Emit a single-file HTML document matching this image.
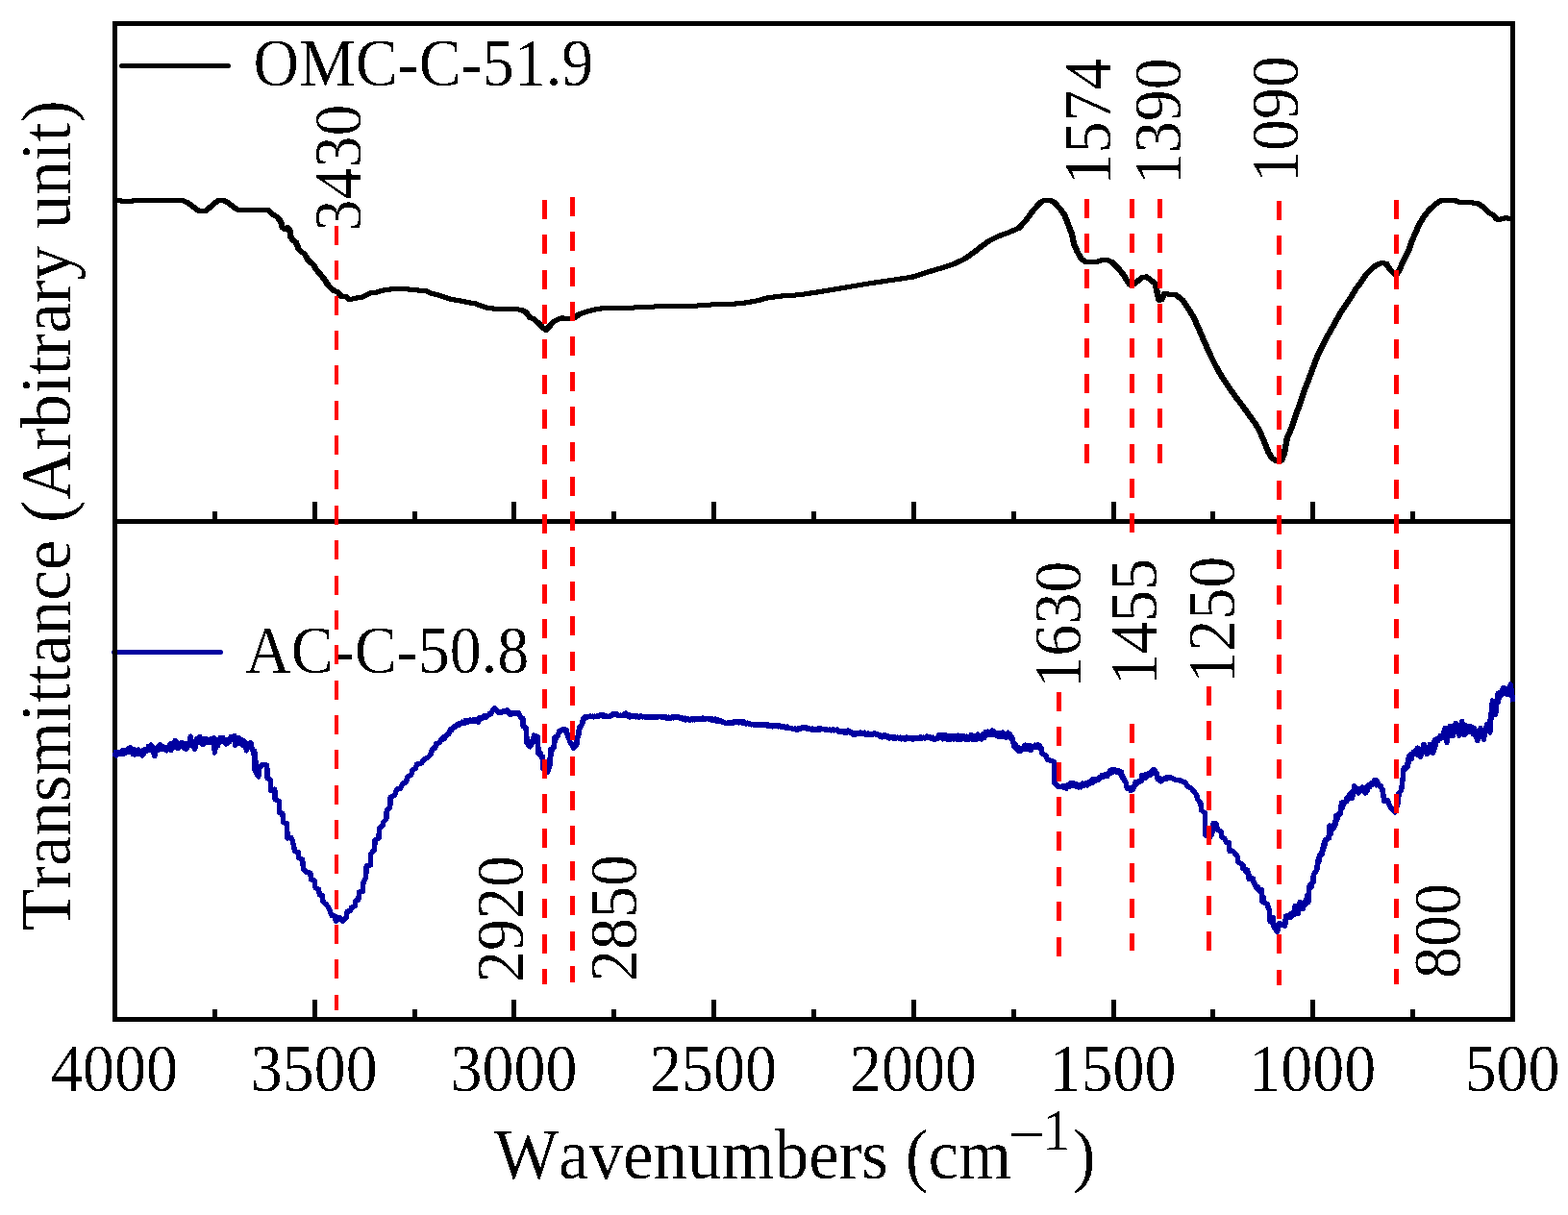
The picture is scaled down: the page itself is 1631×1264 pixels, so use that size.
<!DOCTYPE html>
<html lang="en"><head><meta charset="utf-8"><title>FTIR spectra</title>
<style>
html,body{margin:0;padding:0;background:#fff;}
body{width:1631px;height:1264px;overflow:hidden;}
svg{display:block;}
text{font-family:"Liberation Serif",serif;fill:#000;font-kerning:none;}
.t{font-size:66px;}
.a{font-size:73px;}
</style></head><body>
<svg width="1631" height="1264" viewBox="0 0 1631 1264" shape-rendering="crispEdges">
<defs><filter id="bin" x="0" y="0" width="100%" height="100%" filterUnits="userSpaceOnUse" primitiveUnits="userSpaceOnUse" color-interpolation-filters="sRGB"><feComponentTransfer><feFuncA type="discrete" tableValues="0 0 0 0 0 1 1 1"/></feComponentTransfer></filter></defs>
<rect width="1631" height="1264" fill="#fff"/>
<line x1="126.5" y1="68.5" x2="237.5" y2="68.5" stroke="#000" stroke-width="5" stroke-linecap="round" shape-rendering="auto"/>
<line x1="118.5" y1="678.5" x2="229.5" y2="678.5" stroke="#00009f" stroke-width="5" stroke-linecap="round" shape-rendering="auto"/>
<g stroke="#000" stroke-width="5" fill="none">
<rect x="119.5" y="24.5" width="1454.0" height="1036.0"/>
<line x1="119.5" y1="542.5" x2="1573.5" y2="542.5"/>
<line x1="223.5" y1="542.5" x2="223.5" y2="532.0"/>
<line x1="327.5" y1="542.5" x2="327.5" y2="522.0"/>
<line x1="431.5" y1="542.5" x2="431.5" y2="532.0"/>
<line x1="534.5" y1="542.5" x2="534.5" y2="522.0"/>
<line x1="638.5" y1="542.5" x2="638.5" y2="532.0"/>
<line x1="742.5" y1="542.5" x2="742.5" y2="522.0"/>
<line x1="846.5" y1="542.5" x2="846.5" y2="532.0"/>
<line x1="950.5" y1="542.5" x2="950.5" y2="522.0"/>
<line x1="1054.5" y1="542.5" x2="1054.5" y2="532.0"/>
<line x1="1158.5" y1="542.5" x2="1158.5" y2="522.0"/>
<line x1="1261.5" y1="542.5" x2="1261.5" y2="532.0"/>
<line x1="1365.5" y1="542.5" x2="1365.5" y2="522.0"/>
<line x1="1469.5" y1="542.5" x2="1469.5" y2="532.0"/>
<line x1="223.5" y1="1060.5" x2="223.5" y2="1050.0"/>
<line x1="327.5" y1="1060.5" x2="327.5" y2="1040.0"/>
<line x1="431.5" y1="1060.5" x2="431.5" y2="1050.0"/>
<line x1="534.5" y1="1060.5" x2="534.5" y2="1040.0"/>
<line x1="638.5" y1="1060.5" x2="638.5" y2="1050.0"/>
<line x1="742.5" y1="1060.5" x2="742.5" y2="1040.0"/>
<line x1="846.5" y1="1060.5" x2="846.5" y2="1050.0"/>
<line x1="950.5" y1="1060.5" x2="950.5" y2="1040.0"/>
<line x1="1054.5" y1="1060.5" x2="1054.5" y2="1050.0"/>
<line x1="1158.5" y1="1060.5" x2="1158.5" y2="1040.0"/>
<line x1="1261.5" y1="1060.5" x2="1261.5" y2="1050.0"/>
<line x1="1365.5" y1="1060.5" x2="1365.5" y2="1040.0"/>
<line x1="1469.5" y1="1060.5" x2="1469.5" y2="1050.0"/>
</g>
<g fill="none" stroke="#000" stroke-width="5" stroke-linejoin="round" stroke-linecap="butt"><path transform="translate(-0.7,0)" d="M119.3,208.7 L121.8,208.7 L127.7,209.1 L138,209.1 L140.2,208.4 L176.2,208.4 L179.2,209 L185,208.3 L190.2,208.8 L194.6,210.5 L201.2,215.3 L207.1,219.7 L213,220 L218.9,215.3 L224.8,210.2 L227.7,208.5 L232.1,208.4 L236.5,210.6 L242.4,215 L246.8,218 L260.1,218.8 L279.2,218.6 L283.6,223 L288.1,225.6 L291.7,230 L293.9,236.7 L296.6,238.9 L299.1,236.7 L301.3,238.9 L302.5,247 L305,250.3 L307.9,252.1 L310.9,259.5 L313.8,262.4 L316.7,263.9 L319.7,269.8 L322.6,272.7 L325.6,274.9 L329.3,280.8 L333.7,285.9 L337.3,290.4 L340.3,295.5 L345.4,300.7 L347.7,302.7 L351.3,303.9 L355,308.3 L359.4,308.3 L363.1,311.2 L368.3,310.9 L372.7,309.5 L377.1,309 L381.5,306.8 L385.9,304.6 L391.8,304.2 L396.2,302.4 L403.6,301.4 L410.9,300.3 L421.2,300.3 L425.6,301.2 L433,301.7 L438.9,302.7 L443.3,302.7 L447.7,304.9 L455.1,306.8 L462.4,309 L469.8,311.5 L477.1,312.7 L484.5,314.2 L494.8,315.9 L499.2,317.9 L506.6,320.1 L513.9,321.2 L533.1,321.2 L541.9,322.3 L547,324.8 L551.5,330.4 L555.1,331.8 L561,337 L564.4,340.7 L568.1,343.3 L571.8,339.2 L575.5,334.8 L580.6,332.1 L585,330.7 L588,331.5 L595.3,331.8 L599,329.6 L602.7,326.7 L610,324.2 L618.9,322 L627.7,320.5 L655.6,320.5 L663,319.6 L680.7,319 L721.9,318.3 L730.7,317.6 L742.5,316.8 L763.1,316.2 L776.3,314.9 L788.1,312.7 L798.4,309.8 L798.8,309.8 L816.5,307.6 L831.2,306.8 L848.9,304.2 L866.5,301.3 L885.6,298 L907.7,294.3 L929.8,291.1 L948.9,288.2 L966.6,282.6 L981.3,278.2 L993.1,274.2 L1003.4,269.3 L1013.7,262 L1022.5,255.1 L1028.8,250.6 L1039.1,245.5 L1049.4,241.8 L1059.7,237.4 L1067.1,229.3 L1074.4,219.4 L1081.8,210.9 L1086.2,208.4 L1092.1,208.4 L1096.5,210.6 L1102.4,216.8 L1107.6,224.1 L1111.2,233.7 L1114.9,243.3 L1117.1,253.6 L1120.1,260.9 L1124.5,269 L1128.9,272.3 L1140.7,272.3 L1146.5,270.5 L1152.4,270.8 L1156.8,272.7 L1162.7,278.6 L1168.6,285.9 L1173,293.3 L1175.2,296.2 L1179.7,295.5 L1183.3,292.6 L1187.7,288.9 L1192.2,287.9 L1196.6,291.1 L1201.7,295.2 L1203.9,305.1 L1205.7,312.4 L1208.4,311.7 L1211.3,305.5 L1217.2,306.3 L1223.1,306.8 L1230.4,312.4 L1236.3,321.3 L1241.8,330.6 L1247.7,343.8 L1253.5,357.1 L1259.4,370.3 L1265.3,382.1 L1271.2,392.4 L1278.6,403.4 L1285.9,413.7 L1293.3,423.3 L1300.6,433.6 L1306.5,441.7 L1310.9,449.8 L1315.3,460.1 L1319,469.7 L1322.7,476.3 L1327.1,479.2 L1333,479.2 L1335.9,471.9 L1338.9,455.7 L1343.3,445.4 L1347.7,432.1 L1352.1,420.4 L1356.5,407.1 L1361,395.3 L1365.4,383.6 L1369.8,371.8 L1375.7,360 L1381.6,348.3 L1387.4,338 L1390,333.3 L1395.9,323 L1401.8,314.2 L1406.2,307.6 L1410.6,300.2 L1415.8,293.6 L1420.9,285.5 L1426.1,280.4 L1431.2,275.9 L1437.1,273.7 L1442.2,274.2 L1445.2,279.6 L1448.9,283.3 L1452.5,286.2 L1455.5,281.1 L1458.4,274.5 L1462.1,267.1 L1465,261.2 L1468,252.4 L1472.4,242.1 L1476.8,232.5 L1481.2,225.2 L1487.1,217.8 L1493,212.7 L1498.9,208.6 L1507.7,208.6 L1513.6,208.6 L1519.5,210.9 L1526.8,210.5 L1537.1,211.5 L1543,215.6 L1548.9,221.5 L1553.3,223.7 L1557,228.1 L1560.7,228.1 L1566.6,226.7 L1571.7,227.7"/><path transform="translate(0.7,0)" d="M119.3,208.7 L121.8,208.7 L127.7,209.1 L138,209.1 L140.2,208.4 L176.2,208.4 L179.2,209 L185,208.3 L190.2,208.8 L194.6,210.5 L201.2,215.3 L207.1,219.7 L213,220 L218.9,215.3 L224.8,210.2 L227.7,208.5 L232.1,208.4 L236.5,210.6 L242.4,215 L246.8,218 L260.1,218.8 L279.2,218.6 L283.6,223 L288.1,225.6 L291.7,230 L293.9,236.7 L296.6,238.9 L299.1,236.7 L301.3,238.9 L302.5,247 L305,250.3 L307.9,252.1 L310.9,259.5 L313.8,262.4 L316.7,263.9 L319.7,269.8 L322.6,272.7 L325.6,274.9 L329.3,280.8 L333.7,285.9 L337.3,290.4 L340.3,295.5 L345.4,300.7 L347.7,302.7 L351.3,303.9 L355,308.3 L359.4,308.3 L363.1,311.2 L368.3,310.9 L372.7,309.5 L377.1,309 L381.5,306.8 L385.9,304.6 L391.8,304.2 L396.2,302.4 L403.6,301.4 L410.9,300.3 L421.2,300.3 L425.6,301.2 L433,301.7 L438.9,302.7 L443.3,302.7 L447.7,304.9 L455.1,306.8 L462.4,309 L469.8,311.5 L477.1,312.7 L484.5,314.2 L494.8,315.9 L499.2,317.9 L506.6,320.1 L513.9,321.2 L533.1,321.2 L541.9,322.3 L547,324.8 L551.5,330.4 L555.1,331.8 L561,337 L564.4,340.7 L568.1,343.3 L571.8,339.2 L575.5,334.8 L580.6,332.1 L585,330.7 L588,331.5 L595.3,331.8 L599,329.6 L602.7,326.7 L610,324.2 L618.9,322 L627.7,320.5 L655.6,320.5 L663,319.6 L680.7,319 L721.9,318.3 L730.7,317.6 L742.5,316.8 L763.1,316.2 L776.3,314.9 L788.1,312.7 L798.4,309.8 L798.8,309.8 L816.5,307.6 L831.2,306.8 L848.9,304.2 L866.5,301.3 L885.6,298 L907.7,294.3 L929.8,291.1 L948.9,288.2 L966.6,282.6 L981.3,278.2 L993.1,274.2 L1003.4,269.3 L1013.7,262 L1022.5,255.1 L1028.8,250.6 L1039.1,245.5 L1049.4,241.8 L1059.7,237.4 L1067.1,229.3 L1074.4,219.4 L1081.8,210.9 L1086.2,208.4 L1092.1,208.4 L1096.5,210.6 L1102.4,216.8 L1107.6,224.1 L1111.2,233.7 L1114.9,243.3 L1117.1,253.6 L1120.1,260.9 L1124.5,269 L1128.9,272.3 L1140.7,272.3 L1146.5,270.5 L1152.4,270.8 L1156.8,272.7 L1162.7,278.6 L1168.6,285.9 L1173,293.3 L1175.2,296.2 L1179.7,295.5 L1183.3,292.6 L1187.7,288.9 L1192.2,287.9 L1196.6,291.1 L1201.7,295.2 L1203.9,305.1 L1205.7,312.4 L1208.4,311.7 L1211.3,305.5 L1217.2,306.3 L1223.1,306.8 L1230.4,312.4 L1236.3,321.3 L1241.8,330.6 L1247.7,343.8 L1253.5,357.1 L1259.4,370.3 L1265.3,382.1 L1271.2,392.4 L1278.6,403.4 L1285.9,413.7 L1293.3,423.3 L1300.6,433.6 L1306.5,441.7 L1310.9,449.8 L1315.3,460.1 L1319,469.7 L1322.7,476.3 L1327.1,479.2 L1333,479.2 L1335.9,471.9 L1338.9,455.7 L1343.3,445.4 L1347.7,432.1 L1352.1,420.4 L1356.5,407.1 L1361,395.3 L1365.4,383.6 L1369.8,371.8 L1375.7,360 L1381.6,348.3 L1387.4,338 L1390,333.3 L1395.9,323 L1401.8,314.2 L1406.2,307.6 L1410.6,300.2 L1415.8,293.6 L1420.9,285.5 L1426.1,280.4 L1431.2,275.9 L1437.1,273.7 L1442.2,274.2 L1445.2,279.6 L1448.9,283.3 L1452.5,286.2 L1455.5,281.1 L1458.4,274.5 L1462.1,267.1 L1465,261.2 L1468,252.4 L1472.4,242.1 L1476.8,232.5 L1481.2,225.2 L1487.1,217.8 L1493,212.7 L1498.9,208.6 L1507.7,208.6 L1513.6,208.6 L1519.5,210.9 L1526.8,210.5 L1537.1,211.5 L1543,215.6 L1548.9,221.5 L1553.3,223.7 L1557,228.1 L1560.7,228.1 L1566.6,226.7 L1571.7,227.7"/></g>
<g fill="none" stroke="#0000a0" stroke-linejoin="round" stroke-linecap="butt">
<path d="M118.8,785.6 L123.2,783.7 L129.1,782.2 L132.1,780.8 L135.8,778.6 L138,783.7 L140.9,783.7 L143.8,780 L148.3,785.9 L151.2,780.8 L154.1,778.6 L157.1,774.9 L159.3,781.5 L160.8,786.7 L162.2,780 L165.2,776.4 L168.9,777.1 L173.3,780.8 L177,774.1 L177.7,780.8 L182.1,770.5 L185,778.6 L189.5,772.7 L193.9,779.3 L196.8,772.7 L198.3,766.1 L199.8,774.1 L202.7,779.3 L204.9,768.3 L208.6,767.5 L210.8,774.1 L214.5,769.7 L218.9,771.9 L222.6,767.5 L223.3,783 L225.5,770.5 L227.7,771.2 L231.4,767.5 L235.1,774.1 L239.5,768.3 L243.9,765.3 L244.6,775.6 L248.3,767.5 L251.3,774.1 L253.5,770.5 L256.4,780.8 L258.6,775.6 L260.8,772.7 L262.3,779.3 L264.8,781.5 L265.2,802.1 L268.9,808 L269.7,798.4 L273.3,795.5 L277.7,796.2 L278.2,809.5 L281.4,811.7 L281.9,822.7 L285.8,821.2 L286.1,831.5 L290.3,833.7 L290.7,845.5 L293.9,846.2 L294.7,855.8 L298.4,856.5 L299.1,872 L302.8,871.3 L304.4,875 L306.6,885.3 L310.3,886.8 L311,892.7 L314.7,894.2 L315.5,904.5 L319.1,907.4 L322.8,908.2 L323.5,914.8 L327.2,916.2 L328,923.6 L331.6,925.1 L332.4,931 L335.3,931.7 L336.1,938.3 L339.7,941.3 L342.7,945.7 L344.9,952.3 L348.6,953 L349.3,958.2 L353,954.5 L356.7,958.2 L360.3,954.5 L361.1,948.6 L364.7,947.1 L365.5,944.2 L369.2,942.7 L369.9,936.8 L372.8,936.1 L373.6,928 L377.3,927.3 L378,917.7 L380.6,913.3 L381.2,900.8 L385.3,900.1 L385.8,888.3 L389.5,883.9 L390.1,873.6 L393.9,872.1 L394.5,861.8 L397.9,858.9 L398.6,855.2 L401.8,852.2 L402.3,842.7 L405.7,840.5 L406.2,829.4 L410.4,827.2 L412.9,821 L416.6,820.2 L418.8,815.1 L422.5,813.6 L424,807.7 L427.7,806.2 L428.8,801.1 L432.1,799.6 L433.5,795.2 L438.7,793.7 L440.9,790.1 L445.3,787.9 L448.3,784.2 L449.7,779 L452.7,778.3 L453.4,773.9 L457.1,772.4 L459.3,768.7 L463,766.5 L466.7,763.6 L468.9,758.4 L473.3,756.2 L476.2,753.3 L480.6,751.8 L486.5,750.3 L492.4,748.9 L497.6,751.1 L498.3,746.7 L504.2,745.9 L510.1,743 L513,738.6 L514.5,736.4 L518.9,741.5 L524.8,740 L527.7,738.6 L530.7,743.7 L535.1,741.5 L539.5,741.5 L541.7,746.7 L543.9,747.4 L544.2,755.5 L547.6,757.7 L548,773.1 L551.3,776.8 L554.2,772.4 L555.4,765 L559.4,766.5 L560.1,784.2 L564.5,787.1 L565.2,800.4 L569.7,803.3 L571.9,795.9 L572.6,779.8 L576.3,777.6 L577,767.3 L580.7,765 L581.4,760.6 L586.6,758.4 L589.5,759.9 L590.3,765 L593.2,772.4 L596.9,778.3 L599.8,775.3 L601,766.5 L602.8,756.2 L605.7,753.3 L606.4,748.1 L608.7,745.6 L621.9,745.2 L626.3,743.3 L629.3,745.2 L633.7,745.6 L638.8,742.2 L642.5,744.4 L648.8,744.4 L651,742.2 L654.7,745.9 L659.1,745.2 L676.8,745.9 L688.6,745.6 L694.4,747.4 L701.8,745.9 L710.6,747.4 L716.5,748.9 L725.3,748.1 L735.6,747.4 L743,748.9 L750.4,750.3 L754.8,752.5 L765.1,751.1 L772.4,751.5 L779.8,753 L787.1,754.5 L796,753.6 L801.9,755.5 L813.6,755.5 L822.5,757.7 L829.8,759.2 L835.7,756.2 L846,759.2 L853.4,758 L860.7,759.5 L869.6,759.2 L870,759.5 L874.4,761.4 L881.8,760.6 L887.7,763.6 L899.4,762.8 L905.3,764.3 L909.7,762.8 L917.1,766.5 L921.5,765.3 L925.9,767.3 L940.6,768 L950.9,768.3 L958.3,767.7 L965.6,766.8 L971.5,769.2 L978.9,765 L984.8,768.7 L992.1,765.8 L996.5,768.7 L1002.4,765.8 L1005.4,769.5 L1011.3,765.8 L1017.1,767.3 L1023,765.8 L1028.9,762.1 L1033.3,760.6 L1037.7,765.8 L1042.2,763.6 L1046.6,766.5 L1050.3,763.6 L1053.2,768 L1054.7,776.8 L1059.1,781.2 L1064.2,778.3 L1066.4,775.3 L1070.1,779.8 L1074.5,776.8 L1079,775.1 L1083.4,778.3 L1084.1,784.2 L1087.8,785.6 L1089.3,790.1 L1093.7,791.5 L1096.6,793 L1096.9,815.1 L1096.6,813.6 L1100.3,818 L1106.2,818.7 L1109.1,820.2 L1112.8,815 L1118,816.5 L1122.4,818.7 L1126.8,815.8 L1131.2,815.8 L1135.6,812.1 L1141.5,811.4 L1145.9,807 L1151.8,807.7 L1154.7,801.8 L1160.6,801.1 L1166.5,803.3 L1167.3,809.2 L1170.9,813.6 L1172.4,820.2 L1178.3,821.7 L1181.2,813.6 L1187.1,812.8 L1187.9,806.2 L1191.5,809.2 L1194.5,804.7 L1199.6,801.8 L1200.4,800.3 L1203.3,804.7 L1204,810.6 L1207.7,812.8 L1212.1,809.2 L1218,808.9 L1222.4,811.4 L1228.3,812.1 L1233.5,814.3 L1234.9,818 L1238.6,819.5 L1241.6,823.1 L1244.5,826.8 L1246,832 L1248.9,835.6 L1249.7,843 L1253.3,845.9 L1253.6,868 L1257.7,871.7 L1260.7,868 L1262.2,856.2 L1265.1,857 L1266.6,863.6 L1270.3,865.1 L1271,871 L1273.9,872.4 L1275.4,876.1 L1278.4,876.8 L1279.1,885.7 L1282.8,885.7 L1283.7,886.8 L1287.4,891.2 L1288.1,897.1 L1291.8,898.6 L1292.5,903 L1297.7,905.2 L1299.1,914.8 L1303.5,914 L1304.3,919.2 L1308,925.1 L1312.4,925.8 L1313.1,938.3 L1318.3,940.5 L1320.5,947.1 L1321.2,958.9 L1324.1,954.5 L1324.9,964.1 L1328.6,969.2 L1330.8,960.4 L1336.7,963.3 L1337.4,953 L1341.1,953.8 L1346.2,951.6 L1347,942.7 L1350.6,950.1 L1352.1,938.3 L1355,945.7 L1358,936.8 L1360.9,938.3 L1361.7,922.1 L1366.1,917.7 L1366.8,909.6 L1369.8,905.2 L1370.5,897.1 L1372.7,889.8 L1375.6,888.3 L1376.4,879.5 L1378.6,873.6 L1382.3,872.1 L1383,858.9 L1385.9,863.3 L1388.9,858.9 L1389.6,848.6 L1394,847.1 L1395.5,835.3 L1400.7,833.8 L1403.6,826.5 L1406.5,830.2 L1408.8,817.7 L1413.2,825 L1416.8,819.1 L1420.5,825 L1423.5,816.9 L1427.1,816.2 L1431.6,811.8 L1434.5,817.7 L1438.2,821.3 L1439.7,833.8 L1443.3,832.4 L1446.3,839.7 L1450.7,844.9 L1454.4,835.3 L1455.1,825 L1457.6,822.4 L1458.9,812 L1460.2,799 L1464.1,797.7 L1465.4,786.7 L1470.6,784.7 L1474.5,778.2 L1477.7,787.3 L1481,774.3 L1484.2,784.7 L1487.5,774.3 L1490.7,783.4 L1492.7,769.8 L1496.6,769.2 L1500.5,766.6 L1503.1,757.5 L1505,772.4 L1508.2,755.5 L1511.5,765.3 L1514.1,752.3 L1518,765.3 L1520.6,750.3 L1523.2,764.6 L1525.1,757.5 L1530.3,760.1 L1533.5,757.5 L1536.8,770.5 L1540,757.5 L1543.3,769.2 L1546.5,753.6 L1549.8,762 L1551.1,741.9 L1552.4,728.9 L1555.6,743.2 L1558.2,721.1 L1561.4,723.7 L1564,715.3 L1567.9,722.4 L1571.2,712.1 L1573.8,730.2" stroke-width="5.4"/>
<path d="M119,787.2 L120,782.3 L121,786.3 L123,782.2 L125,785.1 L127,780.7 L128,784.9 L129,780 L131,783.8 L133,778.4 L134,783 L136,777.3 L138,784.6 L139,778.8 L140,785.4 L141,780.4 L142,785 L144,780 L146,784.8 L148,780.5 L149,785.5 L151,778.9 L153,781.4 L154,775.9 L156,780.3 L157.5,777 L159,782.4 L160,777.3 L162,784 L163,777.6 L165,780.6 L166.5,774.3 L168,780.1 L169,775.8 L170.5,780.1 L172,776.9 L173.5,780.6 L175.5,776.5 L177.5,779.5 L179,773.4 L180.5,778 L182.5,771.7 L183.5,778.2 L185,772.5 L187,777.3 L189,772.2 L191,778.4 L193,772.9 L194.5,779.1 L196.5,771.8 L198,775.5 L200,771.9 L201,776 L202.5,772.1 L203.5,775.4 L205,770 L206.5,772.9 L208,766 L209.5,773.8 L211,767.9 L212.5,774.2 L214,768 L215,772.9 L216,768.8 L217,772.4 L219,768.5 L220.5,772.3 L222,769.8 L224,775.1 L225,769.5 L227,775.9 L229,766.8 L230,772.2 L232,766.9 L233.5,773.4 L235,769.5 L237,773.6 L238,768.8 L239,772.1 L240,766.3 L241,769.5 L243,766.9 L244,772.7 L246,768 L247,773.2 L248,768.5 L249.5,773.8 L251,769.2 L252.5,775.6 L254,772.2 L255.5,777.5 L256.5,772.6 L258.5,778.3 L260.5,774.7 L261.5,779.3 L263.5,783.3 L265.5,797.5 L266.5,791.7 L268,803.4" stroke-width="4.6"/>
<path d="M455,775.6 L456.5,771.8 L457.5,771.9 L458.5,769.6 L460.5,770.1 L461.5,766 L462.5,768.7 L464,764.4 L465,765.7 L466.5,762.5 L467.5,762.7 L469,758.8 L470,760.2 L471.5,755.7 L473.5,757 L475,754 L476,755 L477,752.5 L478.5,754.2 L480.5,750.7 L482,753 L483.5,749.6 L484.5,752.4 L485.5,749 L487.5,751.4 L489,748.3 L490.5,751 L492,748.6 L494,750.8 L495.5,748.1 L496.5,750.8 L497.5,747 L498.5,749.5 L500,746.1 L501,748.1 L503,744.4 L505,746.9 L506,743.8 L507,745.3 L509,742 L511,742.8 L512,739.2" stroke-width="4.6"/>
<path d="M520,741.5 L521,740.3 L522,741.4 L523,739.6 L524.5,740.7 L526,738.9 L527,741 L528.5,739.6 L530.5,742.2 L532.5,741.6 L534.5,742.8 L535.5,741 L536.5,742.7 L537.5,741.3 L538.5,742.6 L540,742.8 L541,745.2 L542.5,745.6 L544.5,751.5 L545.5,756.7 L546.5,758.2 L548,765.3 L549,769.4 L551,773 L552,774.6 L554,770.3 L556,769.2 L558,769.8 L560,776.5 L561.5,781.9 L562.5,783.4 L564,790.1 L565,794.5 L566,795.4 L567.5,801 L568.5,799.5 L570,798.3 L572,790.6 L573,788.7 L574,782.1 L576,774.9 L577,771.4 L578,770.9 L579,766.5 L580,765.5 L581.5,761.6 L583.5,761 L584.5,759.3 L586.5,759.9 L588,759.9 L589.5,764.1 L591,765.3 L593,771.2 L595,773.9 L596.5,776.2 L598,774.5 L599,773.9 L600,769.5 L601,767.7 L602.5,763.4 L603.5,757.1 L604.5,755.6 L606.5,752 L608,747.6 L610,746.9 L612,744.8 L613.5,745.9 L614.5,744.6 L615.5,746.1 L616.5,744.8 L617.5,746.1 L619,744.8 L620,745.7 L621,744.4 L622.5,745.9 L624,743.4 L625.5,745 L626.5,743.5 L627.5,745.4 L628.5,743.8 L629.5,745.5 L631,744.4 L633,746 L634.5,744.2 L636.5,744.7 L638,742.5 L639.5,743.8" stroke-width="4.6"/>
<path d="M640,744.4 L642,742.4 L644,745.1 L645.5,743.7 L647.5,744.9 L649,742.8 L650.5,745 L652,742.9 L653,745 L655,743.8 L656,746.1 L657.5,744.2 L658.5,746.1 L660.5,744.2 L662,746.2 L663,744.7 L664.5,746.6 L666.5,744.2 L668.5,746.3 L670,745 L671,746.4 L672.5,745.1 L674,747.1 L676,745 L677,747.1 L678.5,745.1 L679.5,746.4 L681,745.2 L682.5,746.7 L683.5,745 L684.5,746.4 L685.5,745 L687.5,746.4 L688.5,745 L690.5,746.8 L692.5,745.3 L693.5,748 L695.5,745.8 L697.5,747.6 L699,745.4 L700.5,747.1 L702.5,745.2 L703.5,746.9 L705.5,745.4 L707.5,747.8 L709.5,746.1 L710.5,748.5 L712.5,746.7 L713.5,749.4 L715.5,747.4 L717.5,749.7 L719.5,747.6 L720.5,749.2 L721.5,747.4 L722.5,749.3 L724,747.3 L726,748.7 L728,746.9 L729.5,748.6 L731,746.6 L733,748.8 L735,746.9 L737,748.4 L739,747.1 L740,749.4 L741,747.3 L742,749.4 L744,747.8 L745.5,750.6 L746.5,748.5 L748.5,750.6 L749.5,749.3 L751.5,751.8 L753.5,751 L755,753 L757,751.3 L759,752.6 L760.5,751.2 L762,752.8 L763,750.4 L765,752.2 L767,750.3 L768.5,752.2 L769.5,750.1 L771.5,752.3 L772.5,750.3 L773.5,752.6 L774.5,750.7 L776,753.5 L777.5,751.9 L778.5,753.2 L779.5,752.3 L781.5,754.2 L783,752.9 L785,754.9 L786,753 L787,755.2 L788.5,753.4 L789.5,754.8 L791,753.1 L792.5,754.8 L793.5,753 L795,754.7 L796.5,753.4 L798,755.4 L799,753.3 L800,755.9 L802,754.4 L803.5,756.1 L805,754.2 L807,756.1 L808.5,754.4 L809.5,756.3 L810.5,754.3 L812,756.6 L813,754.9 L814.5,756.6 L816,755.4 L817.5,757.7 L819,755.6 L821,758.1 L823,756.8 L825,758.8 L827,757.7 L829,759.8 L831,757.2 L832.5,758.7 L834.5,756.6 L836,757.8 L837.5,756.1 L839.5,758.5 L841.5,757.2 L843.5,759.3 L845,757.7 L846.5,759.5 L848.5,758.1 L849.5,759.5 L851,757.5 L852.5,759.6 L854,757.4 L856,759.2 L857,758 L859,759.7 L860,758.4 L862,760.1 L863,758.3 L864.5,760.3 L866.5,758.4 L868,760.2 L869,758.6" stroke-width="4.6"/>
<path d="M870,761.3 L871,758.6 L873,761.8 L874,760 L875,762 L877,760 L878.5,762.5 L879.5,760.1 L881,762.3 L882.5,759.6 L884,762.4 L885.5,761 L887.5,764.6 L889,762.4 L890,764.3 L891,762.2 L893,764.1 L895,761.8 L896.5,763.8 L897.5,762.3 L898.5,763.9 L899.5,761.8 L901,764.8 L903,762.7 L905,764.9 L906,762.9 L907.5,764.7 L909.5,762.6 L911,764.6 L913,763.6 L915,766.3 L916.5,764.6 L918,767.2 L919,764.8 L920,767.1 L921,764.3 L923,767.4 L924,765.6 L925.5,768.4 L927.5,766.2 L929,768.4 L930.5,766 L931.5,768.7 L933.5,766.7 L935,768.8 L936.5,766.9 L938,769.2 L940,767.2 L941.5,769.6 L943,766.7 L944,769 L945,767.2 L946.5,769 L948.5,767.1 L949.5,769.7 L951,767.1 L953,768.9 L955,767.1 L956.5,768.7 L957.5,766.1 L958.5,768.8 L960.5,766.7 L962,768.4 L964,765.6 L966,768.1 L967,765.9 L968.5,768.6 L970.5,766.7 L972.5,769.5 L974,766.5" stroke-width="4.6"/>
<path d="M975,770.4 L976.5,764.4 L977.5,767.6 L979,764.3 L980.5,769.4 L981.5,764.3 L982.5,769.1 L984,764.6 L985.5,769.6 L987.5,765.1 L989,769.7 L990.5,764.9 L992,769.6 L993.5,765.5 L995,769.4 L997,764.8 L998,769.9 L999.5,765.5 L1000.5,769.2 L1002.5,765.5 L1004.5,769.8 L1006,765.8 L1008,769.4 L1010,764.1 L1011.5,769.8 L1013,764.9 L1015,769.9 L1017,763.5 L1018,768.4 L1019,765 L1021,769.6 L1022.5,763 L1024,768.2 L1025,761.3 L1026,765.6 L1028,760.8 L1030,764.9 L1032,759.6 L1033.5,764.6 L1035.5,761.7 L1036.5,765.6 L1037.5,762.4 L1038.5,767.1 L1040,762.1 L1041.5,766.4 L1043,761.5 L1044,766.9 L1045,763.2 L1046.5,767.7 L1048.5,761.8 L1049.5,767.4 L1051,763.8 L1053,771.7 L1055,770.9" stroke-width="4.6"/>
<path d="M1055,776.7 L1056.5,774.4 L1058.5,781.2 L1060,777.4 L1061,781.9 L1062,777.8 L1063,780.7 L1065,776 L1066,779.5 L1067,775.3 L1068,780 L1069,775.4 L1070,779.6 L1071.5,775.4 L1072.5,781 L1074,776 L1075.5,778.1 L1076.5,774.8 L1078.5,777.6 L1079.5,774.3 L1080.5,778.3 L1082,775.7 L1084,784" stroke-width="4.6"/>
<path d="M1104,820.2 L1106,817.2 L1107,820.1 L1108.5,817.8 L1109.5,820.3 L1110.5,816.4 L1112.5,819.1 L1113.5,814 L1115,817.6 L1116,814.1 L1117,817.5 L1118.5,815 L1119.5,818.9 L1121,815.8 L1122,819.5 L1123,815.9 L1124.5,819.2 L1126,814.6 L1128,817.4 L1129,814.5 L1131,817.3 L1132.5,813.3 L1134,815.5 L1135.5,810.8 L1136.5,814.8 L1138,809.8 L1139.5,812.5 L1140.5,809.9 L1142,812 L1143,808.7 L1144,810.8 L1146,806 L1147.5,808.5 L1149.5,805 L1151.5,807.5 L1152.5,804.5 L1153.5,805.8 L1154.5,803.1 L1156,804.3 L1157,800.4 L1158,803.6 L1159.5,800.1 L1161.5,803.8 L1163,800.9 L1165,805.6 L1166,803.4 L1167,808.4 L1169,808.4 L1170.5,814.1 L1171.5,815.5 L1173.5,820.5 L1175,819.3 L1176,823 L1177,819.4 L1179,820.6 L1181,815.3 L1182.5,816.2 L1184.5,811.9 L1186.5,813.3 L1188.5,808.4 L1190.5,809.8 L1192,805.3 L1193.5,807.6 L1194.5,805 L1196.5,806.5 L1198,801.5 L1200,804.4 L1201.5,802.4 L1203,807.2 L1204,806.2 L1205.5,811.8 L1207,809.8 L1209,812.4 L1211,809.4 L1213,811 L1215,807.5" stroke-width="4.6"/>
<path d="M1290,898.9 L1291.5,898.8 L1292.5,901.3 L1293.5,900.4 L1295.5,907.2 L1296.5,904.4 L1298,909.9 L1299,908.5 L1301,915.1 L1302,913.4 L1304,919.4 L1305,917.9 L1307,923.5 L1308.5,922.6 L1310.5,928.1 L1312,929.2 L1313.5,936 L1314.5,933.2 L1315.5,940 L1317,939.5 L1318.5,944.2 L1320,946.6 L1321.5,954.1 L1323.5,958.6 L1325,963.7 L1326.5,961.8 L1328.5,966.8 L1329.5,963.2" stroke-width="4.6"/>
<path d="M1340,957 L1341.5,950.6 L1343,954.7 L1344.5,949.4 L1346,951.2 L1347,946.6 L1348,950.5 L1349,944.6 L1351,946.2 L1353,941.2 L1355,944.3 L1356.5,938.3 L1358.5,941.3 L1359.5,931.6 L1361.5,929.9 L1363.5,919.2 L1364.5,922.7 L1365.5,912.3 L1366.5,916 L1367.5,906.7 L1369,906.7 L1370.5,898.9 L1372,897.8 L1374,887.2 L1375.5,885.4 L1377,879.1 L1378,881.2 L1379,873.5 L1380.5,874.1 L1382.5,866.4 L1384.5,867.6 L1386,858.6 L1387,860.7 L1389,852.8 L1391,853.7 L1392.5,846.1 L1394.5,845.7 L1395.5,837.6 L1396.5,840.7 L1398.5,834 L1399.5,834.8 L1400.5,830.2 L1401.5,832.3 L1403.5,827 L1404.5,831 L1405.5,823.8 L1407.5,826.1 L1409.5,820.4 L1411.5,823.3 L1413,820.6 L1415,823.4 L1417,819.2 L1419,824 L1420.5,818.7 L1422.5,823.4 L1423.5,816.1 L1425,819.1 L1426,814.7 L1428,816.5 L1429.5,811.3 L1431.5,817.4 L1433,812.6 L1434.5,818.4 L1436.5,817.2 L1438.5,827.4 L1440,826.1" stroke-width="4.6"/>
<path d="M1462,802.1 L1464,792.1 L1465.5,794 L1467.5,784.2 L1468.5,789.9 L1470,782.1 L1471.5,784.9 L1472.5,779.8 L1474.5,785.7 L1476.5,778.6 L1478.5,784.2 L1480.5,777.5 L1481.5,782.8 L1483.5,776.9 L1485,782.8 L1486.5,776.2 L1487.5,782.4 L1488.5,777.3 L1489.5,779 L1491.5,771.4 L1493,777.9 L1495,768.4 L1496,771.2 L1498,764.9 L1500,767.4 L1501,762.7 L1503,768.5 L1504,760.8 L1506,766.4 L1507,759.1 L1509,765.8 L1510,758.2 L1511,761.3 L1512,754.9 L1514,761.1 L1516,755.6 L1517.5,760 L1518.5,754.4" stroke-width="4.6"/>
<path d="M1520,761.4 L1521.5,755.4 L1523,759.8 L1524.5,754 L1525.5,763.4 L1527,755.1 L1529,762.2 L1530.5,755.5 L1531.5,763.5 L1532.5,756.6 L1533.5,765 L1535.5,761.5 L1537.5,766.4 L1538.5,760.5 L1540,766.6 L1541,760.4 L1542.5,766.8 L1543.5,759.7 L1545,763.4 L1547,755.9 L1548,761.2 L1550,746.4 L1552,746.7 L1553,738.8 L1554,741.6 L1555,731 L1556,736.5 L1557,727.9 L1559,730.3 L1560,720.3 L1561.5,722.4 L1563,715.6 L1565,721.5 L1567,716.5 L1568,720.9 L1569.5,714.6 L1571.5,722.2 L1573.5,718.2" stroke-width="4.6"/>
</g>
<g filter="url(#bin)">
<g class="t" text-anchor="middle">
<text transform="translate(119.0,1135.2) scale(1,1.045)">4000</text>
<text transform="translate(326.7,1135.2) scale(1,1.045)">3500</text>
<text transform="translate(534.4,1135.2) scale(1,1.045)">3000</text>
<text transform="translate(742.1,1135.2) scale(1,1.045)">2500</text>
<text transform="translate(949.9,1135.2) scale(1,1.045)">2000</text>
<text transform="translate(1157.6,1135.2) scale(1,1.045)">1500</text>
<text transform="translate(1365.3,1135.2) scale(1,1.045)">1000</text>
<text transform="translate(1573.0,1135.2) scale(1,1.045)">500</text>
</g>
<text class="a" transform="translate(514,1225.5) scale(0.9725,1)">Wavenumbers (cm<tspan font-size="62" dy="-25" dx="-4" textLength="40.8" lengthAdjust="spacingAndGlyphs">−</tspan><tspan font-size="62" dy="-4.5" dx="-4">1</tspan><tspan dy="29.5" dx="2">)</tspan></text>
<text class="a" transform="translate(73,968) rotate(-90) scale(0.973,1)">Transmittance (Arbitrary unit)</text>
<text class="t" transform="translate(263.5,89.2) scale(1,1.045)">OMC-C-51.9</text>
<text class="t" transform="translate(255.1,700.4) scale(1,1.045)">AC-C-50.8</text>
<g class="t">
<text transform="translate(375.0,240.5) rotate(-90) scale(1,1.045)">3430</text>
<text transform="translate(1154.7,192.4) rotate(-90) scale(1,1.045)">1574</text>
<text transform="translate(1228.0,192.2) rotate(-90) scale(1,1.045)">1390</text>
<text transform="translate(1349.7,190) rotate(-90) scale(1,1.045)">1090</text>
<text transform="translate(543.5,1022) rotate(-90) scale(1,1.045)">2920</text>
<text transform="translate(661.5,1021.1) rotate(-90) scale(1,1.045)">2850</text>
<text transform="translate(1124.0,715.7) rotate(-90) scale(1,1.045)">1630</text>
<text transform="translate(1202.7,713.1) rotate(-90) scale(1,1.045)">1455</text>
<text transform="translate(1283.7,710.8) rotate(-90) scale(1,1.045)">1250</text>
<text transform="translate(1518.4,1017.9) rotate(-90) scale(1,1.045)">800</text>
</g>
</g>
<g stroke="#ff0000" fill="none" stroke-dasharray="20 16.36">
<line x1="350" y1="234.9" x2="350" y2="1050.9" stroke-width="4"/>
<line x1="566.5" y1="208" x2="566.5" y2="1023.7" stroke-width="5"/>
<line x1="595.5" y1="205" x2="595.5" y2="1022" stroke-width="5"/>
<line x1="1130.5" y1="207" x2="1130.5" y2="481.7" stroke-width="5"/>
<line x1="1177.5" y1="207" x2="1177.5" y2="553.5" stroke-width="5"/>
<line x1="1206.5" y1="207" x2="1206.5" y2="481.7" stroke-width="5"/>
<line x1="1330.5" y1="208.7" x2="1330.5" y2="1024.6" stroke-width="5"/>
<line x1="1452.5" y1="208" x2="1452.5" y2="1023.6" stroke-width="5"/>
<line x1="1101.5" y1="720" x2="1101.5" y2="994.7" stroke-width="5"/>
<line x1="1177.5" y1="752.8" x2="1177.5" y2="988.8" stroke-width="5"/>
<line x1="1257.5" y1="714" x2="1257.5" y2="988.8" stroke-width="5"/>
</g>
</svg>
</body></html>
